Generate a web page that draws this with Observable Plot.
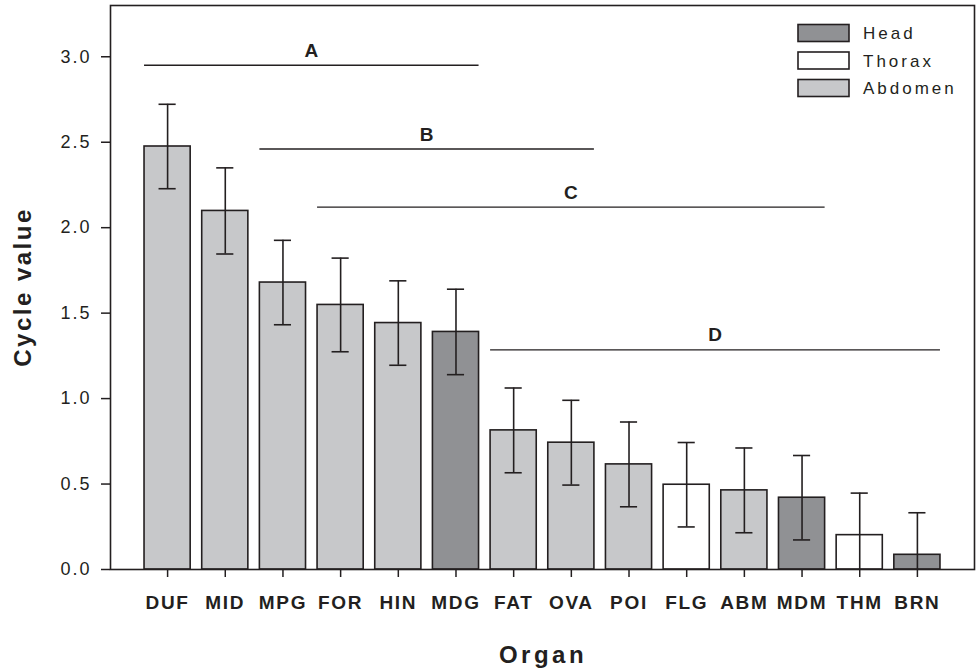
<!DOCTYPE html>
<html><head><meta charset="utf-8">
<script src="https://cdn.jsdelivr.net/npm/d3@7"></script>
<script src="https://cdn.jsdelivr.net/npm/@observablehq/plot@0.6"></script>
<style>
body{margin:0;background:#fff;}
#chart svg text{font-family:"Liberation Sans",Arial,sans-serif;}
g[aria-label="x-axis tick label"] text{letter-spacing:1.7px;}
g[aria-label="y-axis tick label"] text{letter-spacing:2px;}
</style></head><body><div id="chart"></div>
<script>
const organs = ["DUF","MID","MPG","FOR","HIN","MDG","FAT","OVA","POI","FLG","ABM","MDM","THM","BRN"];
const values = [2.475, 2.098, 1.679, 1.548, 1.442, 1.390, 0.814, 0.742, 0.615, 0.496, 0.463, 0.420, 0.201, 0.086];
const errors = [0.247, 0.252, 0.247, 0.274, 0.247, 0.250, 0.248, 0.248, 0.248, 0.247, 0.248, 0.247, 0.246, 0.246];
const regions = ["Abdomen","Abdomen","Abdomen","Abdomen","Abdomen","Head","Abdomen","Abdomen","Abdomen","Thorax","Abdomen","Head","Thorax","Head"];
const regionNames = ["Head","Thorax","Abdomen"];
const regionColors = ["#909194","#ffffff","#c7c8ca"];
const groupLabels = ["A","B","C","D"];
const groupFrom = ["DUF","MPG","FOR","FAT"];
const groupTo = ["MDG","OVA","MDM","BRN"];
const groupLevel = [2.95, 2.46, 2.12, 1.285];
const yTicks = [0, 0.5, 1.0, 1.5, 2.0, 2.5, 3.0];
const yTitle = "Cycle value";
const xTitle = "Organ";

const data = organs.map((o, i) => ({organ: o, value: values[i], lo: values[i] - errors[i], hi: values[i] + errors[i], region: regions[i]}));
const groups = groupLabels.map((l, i) => ({label: l, from: groupFrom[i], to: groupTo[i], level: groupLevel[i]}));

const ink = "#231f20";
const FONT = '"Liberation Sans", Arial, sans-serif';

const overlay = (index, scales, vals, dims) => {
  const g = d3.create("svg:g").attr("fill", ink).style("font-family", FONT);
  const x = scales.x, y = scales.y, bw = x.bandwidth ? x.bandwidth() : 0;
  for (const gr of groups) {
    const cx = (x(gr.from) + x(gr.to) + bw) / 2;
    g.append("text").attr("x", cx).attr("y", y(gr.level) - 8)
      .attr("text-anchor", "middle").style("font-size", "19px").style("font-weight", "bold").text(gr.label);
  }
  const left = dims.marginLeft, right = dims.width - dims.marginRight;
  const top = dims.marginTop, bottom = dims.height - dims.marginBottom;
  g.append("text").attr("transform", `translate(${left - 79},${(top + bottom) / 2}) rotate(-90)`)
    .attr("text-anchor", "middle").style("font-size", "24px").style("font-weight", "bold")
    .style("letter-spacing", "2.5px").text(yTitle);
  g.append("text").attr("x", (left + right) / 2 + 1).attr("y", bottom + 94)
    .attr("text-anchor", "middle").style("font-size", "24px").style("font-weight", "bold")
    .style("letter-spacing", "3.5px").text(xTitle);
  const lx = right - 176;
  regionNames.forEach((name, i) => {
    const cy = top + 28 + i * 27.5;
    g.append("rect").attr("x", lx).attr("y", cy - 8.5).attr("width", 51).attr("height", 17)
      .attr("fill", regionColors[i]).attr("stroke", ink).attr("stroke-width", 1.6);
    g.append("text").attr("x", lx + 65).attr("y", cy + 6.3).attr("text-anchor", "start")
      .style("font-size", "17px").style("letter-spacing", "3px").text(name);
  });
  return g.node();
};

const plot = Plot.plot({
  width: 976, height: 671,
  marginLeft: 110, marginRight: 2, marginTop: 5, marginBottom: 102,
  style: {fontFamily: FONT, fontSize: "18px", color: ink, background: "#fff"},
  x: {domain: organs, paddingInner: 0.2, paddingOuter: 0.59, align: 0.5, round: false, label: null},
  y: {domain: [0, 3.3], label: null},
  color: {domain: regionNames, range: regionColors},
  marks: [
    Plot.barY(data, {x: "organ", y: "value", fill: "region", stroke: ink, strokeWidth: 1.6}),
    Plot.ruleX(data, {x: "organ", y1: "lo", y2: "hi", stroke: ink, strokeWidth: 1.6, clip: true}),
    Plot.tickY(data, {x: "organ", y: "hi", stroke: ink, strokeWidth: 1.6, inset: 14.5, clip: true}),
    Plot.tickY(data, {x: "organ", y: "lo", stroke: ink, strokeWidth: 1.6, inset: 14.5, clip: true}),
    Plot.ruleY(groups, {x1: "from", x2: "to", y: "level", stroke: ink, strokeWidth: 1.4}),
    Plot.axisY({ticks: yTicks, tickFormat: d3.format(".1f"), tickSize: 9, tickPadding: 10, fontSize: 18, strokeWidth: 1.5, label: null}),
    Plot.axisX({tickSize: 8, tickPadding: 18, fontSize: 19, fontWeight: "bold", strokeWidth: 1.5, label: null}),
    Plot.frame({stroke: ink, strokeWidth: 1.6}),
    overlay
  ]
});
document.getElementById("chart").append(plot);
</script></body></html>
